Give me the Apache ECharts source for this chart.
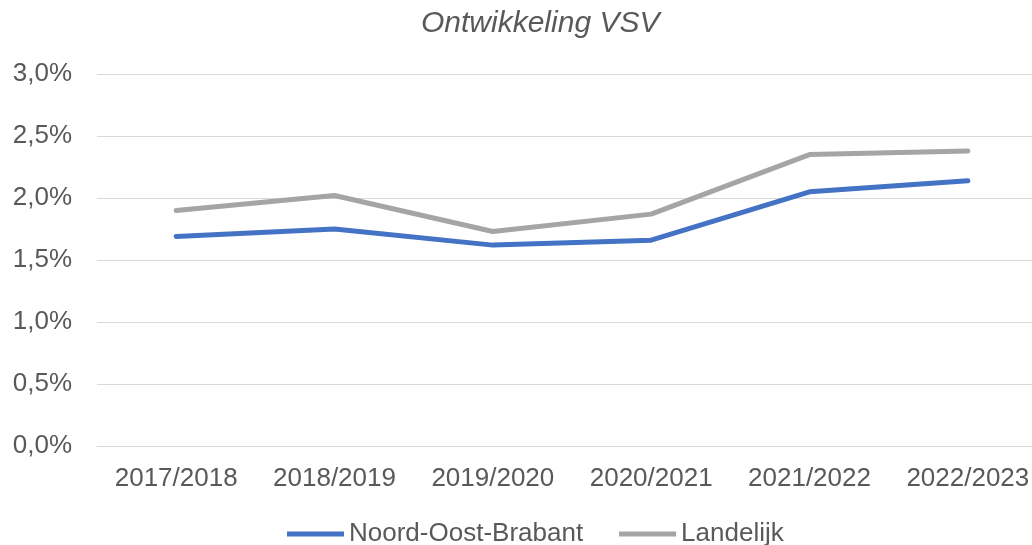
<!DOCTYPE html>
<html>
<head>
<meta charset="utf-8">
<script src="https://cdn.jsdelivr.net/npm/echarts@6/dist/echarts.min.js"></script>
<style>
	html, body { margin: 0; padding: 0; background: #fff; }
	#chart { width: 1032px; height: 545px; }
</style>
</head>
<body>
<div id="chart"></div>
<script>
// schooljaren
const categories = ['2017/2018', '2018/2019', '2019/2020', '2020/2021', '2021/2022', '2022/2023']
// VSV percentage
const noordOostBrabant = [1.69, 1.75, 1.62, 1.66, 2.05, 2.14]
const landelijk = [1.90, 2.02, 1.73, 1.87, 2.35, 2.38]
// y-as
const yMin = 0
const yMax = 3
const yStep = 0.5

const font = '"Liberation Sans", Arial, sans-serif'
const textColor = '#595959'

const chart = echarts.init(document.getElementById('chart'))
const option = {
	animation: false,
	title: {
		text: 'Ontwikkeling VSV',
		left: 416,
		top: 4,
		textStyle: {
			fontFamily: font,
			fontSize: 30,
			fontStyle: 'italic',
			fontWeight: 'normal',
			color: textColor
		}
	},
	legend: {
		left: 282,
		top: 516,
		itemWidth: 57,
		itemHeight: 5,
		itemGap: 36,
		icon: 'rect',
		textStyle: {
			fontFamily: font,
			fontSize: 26,
			color: textColor
		},
		data: ['Noord-Oost-Brabant', 'Landelijk']
	},
	grid: {
		left: 97,
		width: 950,
		top: 74,
		bottom: 99,
		outerBoundsMode: 'none'
	},
	xAxis: {
		type: 'category',
		data: categories,
		axisLine: { lineStyle: { color: '#d9d9d9', width: 1 } },
		axisTick: { show: false },
		axisLabel: {
			interval: 0,
			margin: 20,
			fontFamily: font,
			fontSize: 26,
			color: textColor
		}
	},
	yAxis: {
		type: 'value',
		min: yMin,
		max: yMax,
		interval: yStep,
		axisLine: { show: false },
		axisTick: { show: false },
		axisLabel: {
			margin: 25,
			fontFamily: font,
			fontSize: 26,
			color: textColor,
			formatter: function (v) {
				return v.toFixed(1).replace('.', ',') + '%'
			}
		},
		splitLine: { lineStyle: { color: '#d9d9d9', width: 1 } }
	},
	series: [
		{
			name: 'Noord-Oost-Brabant',
			type: 'line',
			data: noordOostBrabant,
			symbol: 'none',
			lineStyle: { color: '#4472C4', width: 5, cap: 'round', join: 'round' },
			itemStyle: { color: '#4472C4' }
		},
		{
			name: 'Landelijk',
			type: 'line',
			data: landelijk,
			symbol: 'none',
			lineStyle: { color: '#A5A5A5', width: 5, cap: 'round', join: 'round' },
			itemStyle: { color: '#A5A5A5' }
		}
	]
}
chart.setOption(option)
window.addEventListener('resize', function () {
	chart.resize()
})
</script>
</body>
</html>
